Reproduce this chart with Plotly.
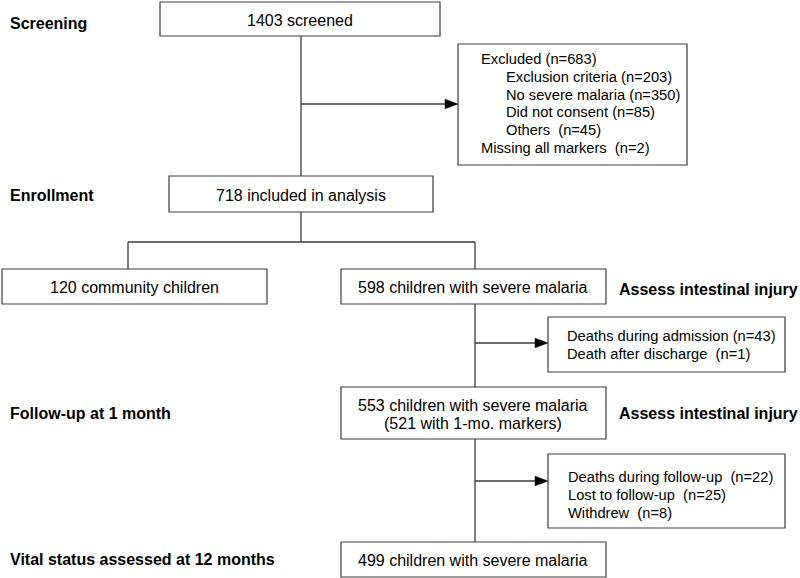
import plotly.graph_objects as go

# ---- data (counts and labels) ----
stage_labels = ["Screening", "Enrollment", "Follow-up at 1 month",
                "Vital status assessed at 12 months"]
n_screened = 1403
n_included = 718
n_community = 120
n_severe = 598
n_followup = 553
n_followup_markers = 521
n_final = 499

excluded_total = 683
excluded_reasons = ["Exclusion criteria", "No severe malaria", "Did not consent", "Others"]
excluded_counts = [203, 350, 85, 45]
missing_markers = 2

admission_reasons = ["Deaths during admission", "Death after discharge "]
admission_counts = [43, 1]

followup_reasons = ["Deaths during follow-up ", "Lost to follow-up ", "Withdrew "]
followup_counts = [22, 25, 8]

assess_label = "Assess intestinal injury"

# ---- styling ----
FONT = "Arial, Liberation Sans, sans-serif"
LINE = "#3c3c3c"
W, H = 800, 578

shapes = []
annotations = []


def box(x0, y0, x1, y1):
    shapes.append(dict(type="rect", x0=x0, y0=y0, x1=x1, y1=y1,
                       line=dict(color=LINE, width=1.2), fillcolor="white", layer="above"))


def seg(x0, y0, x1, y1):
    shapes.append(dict(type="line", x0=x0, y0=y0, x1=x1, y1=y1,
                       line=dict(color=LINE, width=1.3), layer="below"))


def arrow(x0, y, tip):
    seg(x0, y, tip - 12, y)
    shapes.append(dict(type="path",
                       path=f"M {tip-13},{y-4.8} L {tip},{y} L {tip-13},{y+4.8} Z",
                       fillcolor="black", line=dict(color="black", width=0.5)))


def text(x, y, s, size=16, bold=False, anchor="center"):
    if bold:
        s = "<b>" + s + "</b>"
    annotations.append(dict(x=x, y=y, text=s, showarrow=False, xanchor=anchor,
                            yanchor="middle", font=dict(family=FONT, size=size, color="black")))


# stage labels on the left
for lab, y in zip(stage_labels, [23, 195, 413, 559]):
    text(8, y, lab, size=16, bold=True, anchor="left")

# screening
box(160, 2, 440, 36)
text(300, 20, f"{n_screened} screened")
seg(301, 36, 301, 176)
arrow(301, 104, 458)

box(458, 44, 687, 165)
excl_lines = [(479, f"Excluded (n={excluded_total})")]
excl_lines += [(504, f"{r} (n={c})" if r != "Others" else f"{r}  (n={c})")
               for r, c in zip(excluded_reasons, excluded_counts)]
excl_lines += [(479, f"Missing all markers  (n={missing_markers})")]
for (x, s), y in zip(excl_lines, [59, 77, 95, 112, 130, 148]):
    text(x, y, s, size=14.7, anchor="left")

# enrollment
box(169, 176, 433, 212)
text(301, 195, f"{n_included} included in analysis")
seg(301, 212, 301, 242)
seg(128, 242, 475, 242)
seg(128, 242, 128, 269)
seg(475, 242, 475, 269)

box(2, 269, 267, 304)
text(134, 287, f"{n_community} community children")
box(341, 269, 606, 304)
text(473, 287, f"{n_severe} children with severe malaria")
text(617, 289, assess_label, bold=True, anchor="left")

seg(475, 304, 475, 387)
arrow(475, 343, 548)
box(548, 317, 785, 372)
for s, c, y in zip(admission_reasons, admission_counts, [336, 354]):
    text(565, y, f"{s} (n={c})", size=14.7, anchor="left")

# follow-up
box(341, 387, 606, 439)
text(473, 405, f"{n_followup} children with severe malaria")
text(473, 423, f"({n_followup_markers} with 1-mo. markers)")
text(617, 413, assess_label, bold=True, anchor="left")

seg(475, 439, 475, 542)
arrow(475, 481, 548)
box(548, 454, 785, 528)
for s, c, y in zip(followup_reasons, followup_counts, [477, 495, 513]):
    text(566, y, f"{s} (n={c})", size=14.7, anchor="left")

# 12 months
box(341, 542, 606, 577)
text(473, 560, f"{n_final} children with severe malaria")

fig = go.Figure()
fig.update_layout(
    width=W, height=H,
    margin=dict(l=0, r=0, t=0, b=0),
    paper_bgcolor="white", plot_bgcolor="white",
    xaxis=dict(range=[0, W], visible=False, fixedrange=True),
    yaxis=dict(range=[H, 0], visible=False, fixedrange=True),
    shapes=shapes, annotations=annotations,
    showlegend=False,
)
# drop the default page margin so the figure sits at the window's corner
fig.write_html("out.html", config={"displayModeBar": False},
               post_script="document.body.style.margin='0';")
